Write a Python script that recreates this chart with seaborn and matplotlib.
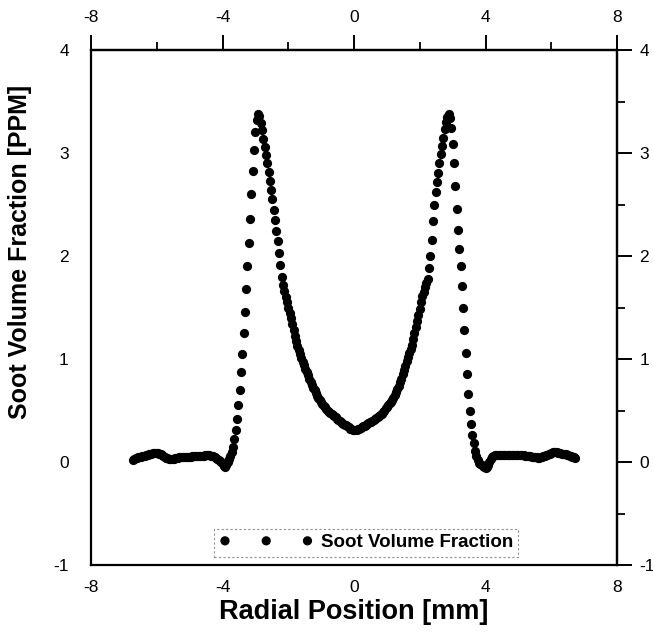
import numpy as np
import pandas as pd
import matplotlib
matplotlib.use("Agg")
import matplotlib.pyplot as plt
import seaborn as sns

# ---------------- data ----------------
radial_step_mm = 0.04          # sampling step of the radial profile
n_side = 168                   # samples on each side of the axis (x = 0)

# soot volume fraction [PPM], from x = -6.72 mm up to x = 0 mm
soot_left = [
    0.02, 0.03, 0.035, 0.04, 0.045, 0.05, 0.05, 0.055, 0.06, 0.06, 0.065, 0.07, 0.075, 0.08, 0.08, 0.085, 0.09, 0.09, 0.09,
    0.085, 0.08, 0.075, 0.07, 0.06, 0.05, 0.04, 0.035, 0.03, 0.025, 0.025,
    0.03, 0.03, 0.035, 0.04, 0.04, 0.045, 0.045, 0.045, 0.045, 0.045,
    0.05, 0.05, 0.05, 0.05, 0.05, 0.055, 0.055, 0.055, 0.055, 0.055,
    0.06, 0.06, 0.06, 0.06, 0.06, 0.065, 0.065, 0.065, 0.065, 0.06,
    0.06, 0.055, 0.05, 0.04, 0.03, 0.02, 0.01, 0.00, -0.02, -0.04,
    -0.05, -0.03, 0.00, 0.03, 0.06, 0.10, 0.15, 0.22, 0.31, 0.42,
    0.55, 0.70, 0.87, 1.05, 1.25, 1.46, 1.68, 1.90, 2.13, 2.36,
    2.60, 2.83, 3.03, 3.20, 3.32, 3.38,
    3.36, 3.29, 3.22, 3.14,
    3.06, 2.98, 2.90, 2.82, 2.73, 2.64, 2.55, 2.45, 2.35, 2.24,
    2.15, 2.03, 1.91, 1.80, 1.72, 1.66, 1.60, 1.55, 1.50, 1.45,
    1.40, 1.34, 1.28, 1.22, 1.17, 1.13, 1.09, 1.05, 1.01, 0.975,
    0.94, 0.905, 0.87, 0.84, 0.81, 0.78, 0.75, 0.72, 0.695, 0.67,
    0.645, 0.62, 0.60, 0.58, 0.56, 0.545, 0.53, 0.515, 0.50, 0.49,
    0.475, 0.465, 0.455, 0.445, 0.435, 0.42, 0.41, 0.40, 0.39, 0.38,
    0.372, 0.364, 0.355, 0.345, 0.335, 0.325, 0.32, 0.315, 0.31,
]

# soot volume fraction [PPM], from x = 0.04 mm up to x = 6.72 mm
soot_right = [
    0.31, 0.315, 0.32, 0.325, 0.33, 0.34, 0.345, 0.35, 0.36, 0.37,
    0.375, 0.385, 0.39, 0.40, 0.41, 0.42, 0.43, 0.44, 0.45, 0.46,
    0.47, 0.49, 0.50, 0.52, 0.535, 0.55, 0.57, 0.585, 0.605, 0.625,
    0.65, 0.68, 0.71, 0.74, 0.775, 0.81, 0.85, 0.89, 0.93, 0.98,
    1.02, 1.06, 1.10, 1.14, 1.19, 1.25, 1.31, 1.37, 1.43, 1.49,
    1.55, 1.61, 1.655, 1.70, 1.74, 1.78, 1.88, 2.00, 2.16, 2.34,
    2.50, 2.62, 2.72, 2.81, 2.90, 2.99, 3.07, 3.15, 3.23, 3.30,
    3.35, 3.38,
    3.34, 3.24, 3.09, 2.90, 2.68, 2.46, 2.25, 2.07, 1.90, 1.71,
    1.50, 1.28, 1.06, 0.85, 0.66, 0.50, 0.37, 0.26, 0.18, 0.11,
    0.06, 0.02, -0.01, -0.02, -0.03, -0.04, -0.05, -0.055, -0.05, -0.03,
    0.00, 0.03, 0.05, 0.06, 0.065,
    0.07, 0.07, 0.07, 0.07, 0.065, 0.065, 0.065, 0.065, 0.065, 0.065,
    0.07, 0.07, 0.07, 0.07, 0.07, 0.07, 0.07, 0.07,
    0.07, 0.068, 0.066, 0.064, 0.062, 0.06, 0.058, 0.056, 0.054, 0.052,
    0.05, 0.048, 0.046, 0.044, 0.042, 0.04,
    0.045, 0.05, 0.055, 0.06, 0.065, 0.07, 0.075, 0.08, 0.09, 0.095, 0.10,
    0.10, 0.095, 0.09, 0.09, 0.085, 0.08, 0.08, 0.075, 0.075, 0.07,
    0.065, 0.06, 0.055, 0.05, 0.045, 0.04,
]

series_label = "Soot Volume Fraction"
x_label = "Radial Position [mm]"
y_label = "Soot Volume Fraction [PPM]"
x_major = [-8, -4, 0, 4, 8]
x_minor = [-6, -2, 2, 6]
y_major = [-1, 0, 1, 2, 3, 4]
y_minor = [-0.5, 0.5, 1.5, 2.5, 3.5]

radial_mm = np.round(np.arange(-n_side, n_side + 1) * radial_step_mm, 2)
soot_ppm = np.array(soot_left + soot_right)
df = pd.DataFrame({x_label: radial_mm, y_label: soot_ppm})

# ---------------- plot ----------------
sns.set_theme(style="white")
plt.rcParams["font.family"] = ["Liberation Sans", "DejaVu Sans"]
plt.rcParams["axes.unicode_minus"] = False

W, H = 653, 633
fig = plt.figure(figsize=(W / 100, H / 100), dpi=100)
ax = fig.add_axes([91 / W, 1 - 565 / H, 526 / W, 515 / H])

sns.scatterplot(data=df, x=x_label, y=y_label, ax=ax, color="black",
                s=44, linewidth=0, label=series_label)

ax.set_xlim(-8, 8)
ax.set_ylim(-1, 4)

for sp in ax.spines.values():
    sp.set_color("black")
    sp.set_linewidth(1.6)


def style_axis(axis_obj, major, minor, pad, maj_len=11, min_len=6):
    axis_obj.set_ticks(major)
    axis_obj.set_ticks(minor, minor=True)
    axis_obj.set_tick_params(which="both", direction="out", color="black")
    axis_obj.set_tick_params(which="major", length=maj_len, width=1.4,
                             labelsize=12.5, pad=pad, labelcolor="black")
    axis_obj.set_tick_params(which="minor", length=min_len, width=1.3)


style_axis(ax.xaxis, x_major, x_minor, pad=1, maj_len=10, min_len=6)
style_axis(ax.yaxis, y_major, y_minor, pad=5)

top = ax.secondary_xaxis("top")
style_axis(top.xaxis, x_major, x_minor, pad=7)
top.spines["top"].set_linewidth(1.6)
top.spines["top"].set_color("black")
right = ax.secondary_yaxis("right")
style_axis(right.yaxis, y_major, y_minor, pad=5)
right.spines["right"].set_linewidth(1.6)
right.spines["right"].set_color("black")

ax.set_xlabel(x_label, fontsize=19.5, fontweight="bold", labelpad=3, color="black")
ax.set_ylabel(y_label, fontsize=18, fontweight="bold", color="black")
ax.yaxis.set_label_coords(-0.112, 0.608)

leg = ax.legend(loc="lower center", bbox_to_anchor=(0.523, 0.0155),
                scatterpoints=3, scatteryoffsets=[0.5], handlelength=5.0,
                handletextpad=0.4, borderpad=0.3, borderaxespad=0.0,
                fancybox=False, frameon=True,
                prop={"weight": "bold", "size": 13.5})
frame = leg.get_frame()
frame.set_edgecolor("0.45")
frame.set_linewidth(0.8)
frame.set_linestyle((0, (2, 2)))
for t in leg.get_texts():
    t.set_color("black")

fig.savefig("out.png", dpi=100, facecolor="white")
